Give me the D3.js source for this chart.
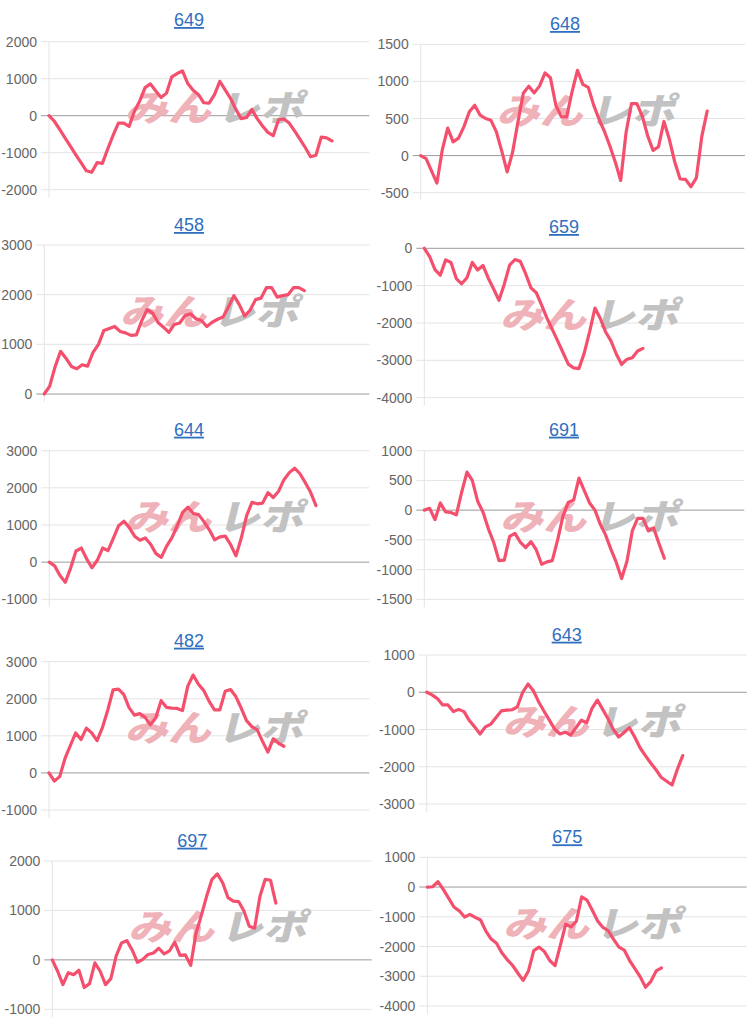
<!DOCTYPE html>
<html><head><meta charset="utf-8">
<script src="https://cdn.jsdelivr.net/npm/d3@7"></script>
<style>body{margin:0;background:#fff;} svg{display:block;}</style>
</head><body><svg id="c" width="750" height="1022"></svg>
<script>
// ---- data ----
const titles = ["649","648","458","659","644","691","482","643","697","675"];

const v649 = [0,-150,-370,-600,-820,-1050,-1270,-1490,-1530,-1270,-1290,-900,-530,-200,-200,-290,120,400,760,860,670,490,610,1050,1140,1210,870,690,570,350,340,570,930,700,470,170,-80,-50,170,-80,-280,-450,-540,-110,-90,-200,-410,-630,-860,-1110,-1070,-580,-600,-680];
const v648 = [0,-40,-205,-370,80,370,185,235,390,590,680,545,500,475,320,60,-220,45,455,845,935,845,940,1115,1050,680,525,520,860,1150,960,920,680,490,325,130,-85,-335,315,700,700,530,265,70,120,460,220,-85,-315,-320,-420,-300,255,600];
const v458 = [0,160,550,860,720,555,510,590,560,840,1000,1280,1320,1360,1260,1230,1180,1190,1480,1700,1630,1440,1345,1240,1400,1430,1580,1615,1515,1480,1360,1445,1505,1550,1750,1980,1800,1570,1690,1900,1930,2140,2140,1950,1980,2000,2140,2140,2080];
const v659 = [0,-220,-570,-720,-310,-380,-810,-950,-790,-380,-580,-460,-800,-1090,-1390,-960,-450,-300,-350,-680,-1060,-1190,-1520,-1870,-2170,-2480,-2790,-3100,-3200,-3220,-2800,-2230,-1600,-1880,-2240,-2480,-2830,-3110,-2970,-2930,-2750,-2680];
const v644 = [0,-100,-360,-540,-160,300,380,90,-150,50,380,310,640,980,1100,930,700,590,650,480,230,130,430,660,980,1340,1480,1310,1280,1090,870,600,680,700,470,170,650,1250,1610,1570,1590,1870,1740,1910,2220,2410,2530,2380,2140,1880,1520];
const v691 = [0,30,-160,120,-30,-40,-80,300,640,500,150,-30,-310,-540,-850,-840,-440,-390,-540,-630,-530,-670,-910,-870,-850,-500,-100,130,170,540,330,120,0,-240,-420,-660,-880,-1150,-860,-350,-140,-140,-350,-300,-560,-810];
const v482 = [0,-220,-100,390,740,1080,900,1210,1080,870,1220,1690,2240,2260,2120,1760,1560,1600,1500,1300,1490,1950,1770,1750,1740,1680,2340,2640,2390,2220,1930,1700,1700,2200,2250,2060,1750,1410,1250,1160,850,560,920,800,720];
const v643 = [0,-70,-170,-340,-340,-520,-460,-520,-760,-930,-1120,-930,-860,-680,-500,-480,-470,-390,0,220,40,-260,-510,-750,-990,-1120,-1070,-1150,-950,-750,-820,-430,-210,-460,-710,-1000,-1200,-1080,-950,-1200,-1490,-1700,-1900,-2080,-2290,-2390,-2490,-2070,-1700];
const v697 = [0,-230,-500,-260,-300,-210,-560,-480,-60,-230,-500,-380,80,340,390,200,-50,10,110,140,235,120,180,360,90,100,-110,540,900,1290,1630,1740,1560,1260,1190,1180,990,680,640,1280,1630,1610,1150];
const v675 = [0,10,180,-80,-370,-670,-800,-1010,-920,-1020,-1110,-1480,-1750,-1890,-2210,-2440,-2630,-2890,-3140,-2820,-2140,-2020,-2170,-2470,-2640,-1950,-1250,-1340,-1150,-330,-440,-780,-1140,-1360,-1470,-1760,-2020,-2120,-2470,-2740,-3020,-3370,-3170,-2820,-2720];

const ticks649 = [-2000,-1000,0,1000,2000];
const ticks648 = [-500,0,500,1000,1500];
const ticks458 = [0,1000,2000,3000];
const ticks659 = [-4000,-3000,-2000,-1000,0];
const ticks644 = [-1000,0,1000,2000,3000];
const ticks691 = [-1500,-1000,-500,0,500,1000];
const ticks482 = [-1000,0,1000,2000,3000];
const ticks643 = [-3000,-2000,-1000,0,1000];
const ticks697 = [-1000,0,1000,2000];
const ticks675 = [-4000,-3000,-2000,-1000,0,1000];

const slots = 60; // x-axis game slots

// ---- layout (positions only) ----
const layout = [
  {x0:49,   x1:369.3, y0:41.7,  y1:189.7, tx:189,   ty:26},
  {x0:420.7,x1:745,   y0:44.3,  y1:192.7, tx:565,   ty:30},
  {x0:44.3, x1:369.3, y0:245,   y1:394,   tx:189,   ty:231},
  {x0:424.3,x1:744.3, y0:248.3, y1:397.7, tx:564,   ty:233},
  {x0:49.3, x1:369.3, y0:450.7, y1:599.3, tx:189,   ty:435.7},
  {x0:424.3,x1:744.3, y0:450.7, y1:599.3, tx:564,   ty:435.7},
  {x0:49,   x1:369.3, y0:661.7, y1:810,   tx:189,   ty:646.7},
  {x0:426.7,x1:746.7, y0:655,   y1:804,   tx:566.7, ty:640.7},
  {x0:52.3, x1:371.7, y0:861,   y1:1009.3,tx:192.3, ty:846.7},
  {x0:427.3,x1:746.7, y0:857.3, y1:1006,  tx:567.3, ty:843.3}
];

const series = [v649,v648,v458,v659,v644,v691,v482,v643,v697,v675];
const tickSets = [ticks649,ticks648,ticks458,ticks659,ticks644,ticks691,ticks482,ticks643,ticks697,ticks675];

const svg = d3.select("#c");
svg.append("rect").attr("width",750).attr("height",1022).attr("fill","#fff");

series.forEach((vals, k) => {
  const L = layout[k];
  const ticks = tickSets[k];
  const g = svg.append("g");
  const x = d3.scaleLinear().domain([0, slots]).range([L.x0, L.x1]);
  const y = d3.scaleLinear().domain([d3.min(ticks), d3.max(ticks)]).range([L.y1, L.y0]);

  // gridlines
  g.selectAll("line.grid").data(ticks).join("line")
    .attr("x1", L.x0 - 8).attr("x2", L.x1)
    .attr("y1", d => y(d)).attr("y2", d => y(d))
    .attr("stroke", d => d === 0 ? "#9a9a9a" : "#e4e4e4")
    .attr("stroke-width", 1);
  // y axis line
  g.append("line").attr("x1", L.x0).attr("x2", L.x0).attr("y1", L.y0).attr("y2", L.y1 + 8)
    .attr("stroke", "#e4e4e4");

  // tick labels
  g.selectAll("text.tick").data(ticks).join("text")
    .attr("x", L.x0 - 12).attr("y", d => y(d))
    .attr("text-anchor", "end").attr("dominant-baseline", "central")
    .attr("font-family", "'Liberation Sans', Arial, sans-serif")
    .attr("font-size", 14).attr("fill", "#666")
    .text(d => String(d));

  // watermark
  const wy = (L.y0 + L.y1) / 2 - 10;
  const wx = L.x0 + 70;
  const wm = g.append("g").attr("transform", `translate(${wx},${wy + 15}) skewX(-14)`);
  wm.append("text").attr("x", 6).attr("y", 0)
    .attr("font-family", "'Noto Sans CJK JP', sans-serif").attr("font-weight", 900)
    .attr("font-size", 36).attr("fill", "#f0b2b9")
    .attr("textLength", 86).attr("lengthAdjust", "spacingAndGlyphs")
    .text("みん");
  wm.append("text").attr("x", 98).attr("y", 0)
    .attr("font-family", "'Noto Sans CJK JP', sans-serif").attr("font-weight", 900)
    .attr("font-size", 36).attr("fill", "#c2c2c2")
    .attr("textLength", 86).attr("lengthAdjust", "spacingAndGlyphs")
    .text("レポ");

  // line
  const line = d3.line().x((d, i) => x(i)).y(d => y(d));
  g.append("path").datum(vals).attr("d", line)
    .attr("fill", "none").attr("stroke", "#f4506e").attr("stroke-width", 3.2)
    .attr("stroke-linejoin", "round").attr("stroke-linecap", "round");

  // title
  g.append("text").attr("x", L.tx).attr("y", L.ty).attr("text-anchor", "middle")
    .attr("font-family", "'Liberation Sans', Arial, sans-serif")
    .attr("font-size", 18).attr("fill", "#2f6fc0")
    .attr("text-decoration", "underline")
    .text(titles[k]);
});
</script></body></html>
